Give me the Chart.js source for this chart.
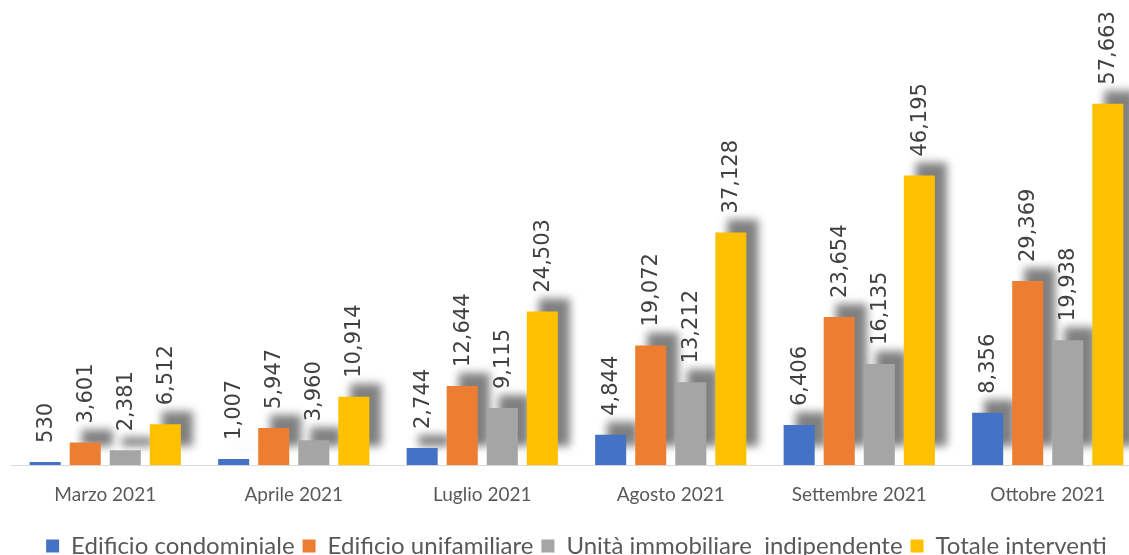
<!DOCTYPE html>
<html>
<head>
<meta charset="utf-8">
<script src="https://cdn.jsdelivr.net/npm/chart.js@4.4.1/dist/chart.umd.min.js"></script>
<style>
    html, body { margin: 0; padding: 0; background: #fff; overflow: hidden; }
    #wrap { width: 1129px; height: 555px; overflow: hidden; }
</style>
</head>
<body>
<div id="wrap"><canvas id="chart" width="1150" height="574"></canvas></div>
<script>
const categories = ["Marzo 2021", "Aprile 2021", "Luglio 2021", "Agosto 2021", "Settembre 2021", "Ottobre 2021"];
const seriesNames = ["Edificio condominiale", "Edificio unifamiliare", "Unità immobiliare  indipendente", "Totale interventi"];
const condominiale = [530, 1007, 2744, 4844, 6406, 8356];
const unifamiliare = [3601, 5947, 12644, 19072, 23654, 29369];
const indipendente = [2381, 3960, 9115, 13212, 16135, 19938];
const totale = [6512, 10914, 24503, 37128, 46195, 57663];
const colors = ["#4472C4", "#ED7D31", "#A5A5A5", "#FFC000"];

document.addEventListener('DOMContentLoaded', function() {
    initChart()
});

function formatValue(v) {
    return v.toLocaleString('en-US');
}

// grey drop shadow behind every bar, drawn before the bars
const barShadow = {
    id: 'barShadow',
    beforeDatasetsDraw(chart) {
        const ctx = chart.ctx;
        ctx.save();
        ctx.filter = 'blur(4px)';
        ctx.fillStyle = 'rgba(110,110,110,0.88)';
        chart.data.datasets.forEach((ds, i) => {
            chart.getDatasetMeta(i).data.forEach(bar => {
                const p = bar.getProps(['x', 'y', 'base', 'width'], true);
                const left = p.x - p.width / 2 + 12;
                const top = p.y - 13;
                const bottom = p.base - 19;
                if (bottom > top) ctx.fillRect(left, top, p.width, bottom - top);
            });
        });
        ctx.restore();
    }
};

// vertical value labels above each bar
const barLabels = {
    id: 'barLabels',
    afterDatasetsDraw(chart) {
        const ctx = chart.ctx;
        ctx.save();
        ctx.font = '21px "DejaVu Sans"';
        ctx.fillStyle = '#404040';
        ctx.textAlign = 'left';
        ctx.textBaseline = 'middle';
        chart.data.datasets.forEach((ds, i) => {
            chart.getDatasetMeta(i).data.forEach((bar, j) => {
                const p = bar.getProps(['x', 'y'], true);
                ctx.save();
                ctx.translate(p.x + 1, p.y - 19);
                ctx.rotate(-Math.PI / 2);
                ctx.fillText(formatValue(ds.data[j]), 0, 0);
                ctx.restore();
            });
        });
        ctx.restore();
    }
};

function initChart() {
    const values = [condominiale, unifamiliare, indipendente, totale];
    let data = {
        labels: categories,
        datasets: values.map((v, i) => ({
            label: seriesNames[i],
            data: v,
            backgroundColor: colors[i],
            borderWidth: 0,
            barPercentage: 0.775,
            categoryPercentage: 0.85
        }))
    };

    let options = {
        responsive: false,
        animation: false,
        devicePixelRatio: 1,
        layout: {
            padding: { top: 89, left: 11, right: 8, bottom: 6 }
        },
        plugins: {
            legend: {
                position: 'bottom',
                labels: {
                    color: '#595959',
                    boxWidth: 13,
                    boxHeight: 13,
                    padding: 8,
                    font: { size: 24, family: 'Lato' }
                }
            },
            tooltip: { enabled: false }
        },
        scales: {
            y: {
                display: false,
                min: 0,
                max: 60000
            },
            x: {
                grid: { display: false },
                border: { display: true, color: '#D9D9D9', width: 1 },
                ticks: {
                    color: '#595959',
                    padding: 10,
                    font: { size: 19, family: 'Lato' }
                },
                afterFit: function(scale) {
                    scale.height += 10;
                }
            }
        }
    };

    let ctx = document.getElementById('chart').getContext('2d');
    const chart = new Chart(ctx, {
        type: 'bar',
        options: options,
        data: data,
        plugins: [barShadow, barLabels]
    });
}
</script>
</body>
</html>
